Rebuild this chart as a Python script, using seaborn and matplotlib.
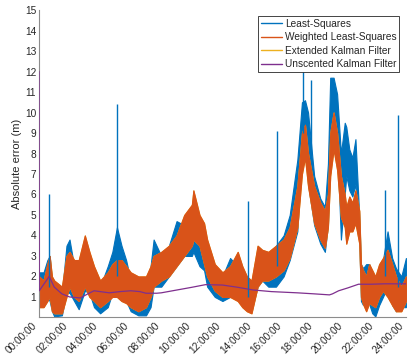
import numpy as np
import pandas as pd
import seaborn as sns
import matplotlib
matplotlib.use("Agg")
import matplotlib.pyplot as plt
from matplotlib.lines import Line2D

# ---------------- data (hours of day, absolute error in m) ----------------
env_t = [0.0, 0.3, 0.55, 0.7, 0.85, 1.0, 1.5, 1.8, 2.0, 2.3, 2.6, 3.0, 3.3, 3.6,
         4.0, 4.5, 4.8, 5.1, 5.4, 5.7, 6.0, 6.5, 7.0, 7.3, 7.5, 8.0, 8.5, 9.0,
         9.5, 10.0, 10.1, 10.5, 10.8, 11.0, 11.5, 12.0, 12.5, 13.0, 13.3, 13.6,
         13.9, 14.3, 14.6, 15.0, 15.5, 16.0, 16.4, 16.9, 17.2, 17.4, 17.6, 18.0,
         18.4, 18.7, 18.9, 19.05, 19.27, 19.5, 19.75, 20.0, 20.1, 20.3, 20.5,
         20.7, 20.95, 21.06, 21.2, 21.4, 21.6, 21.8, 22.0, 22.25, 22.5, 22.8,
         23.1, 23.35, 23.7, 24.0]

wls_lo = [0.5, 0.5, 0.8, 1.0, 0.3, 0.2, 0.2, 1.0, 1.5, 1.0, 0.8, 1.5, 1.0, 0.8,
          0.5, 0.8, 1.0, 1.0, 0.8, 0.7, 0.5, 0.3, 0.5, 1.0, 1.5, 1.8, 2.0, 2.5,
          3.0, 3.5, 3.8, 3.5, 2.6, 2.0, 1.3, 1.0, 1.0, 0.8, 0.5, 0.3,
          0.2, 1.5, 1.8, 1.8, 2.0, 2.3, 2.9, 4.4, 7.0, 7.8, 6.4, 4.6,
          3.8, 3.4, 4.4, 6.9, 8.2, 7.2, 4.9, 4.4, 3.6, 4.2, 4.2,
          4.6, 3.6, 1.0, 0.65, 0.3, 0.7, 0.6, 0.5, 1.0, 1.3, 1.0,
          0.6, 0.3, 0.3, 0.8]
wls_hi = [2.0, 1.8, 2.6, 3.0, 2.0, 1.8, 1.5, 3.0, 3.2, 2.8, 2.8, 4.0, 3.2, 2.5,
          1.8, 2.2, 2.6, 2.8, 2.8, 2.5, 2.2, 2.0, 2.0, 2.5, 3.0, 3.2, 3.5, 4.0,
          5.0, 5.5, 6.2, 5.0, 4.6, 3.8, 2.6, 2.2, 2.5, 3.2, 2.5, 2.0,
          1.8, 3.5, 3.3, 3.2, 3.5, 3.8, 4.4, 6.4, 9.0, 9.4, 8.0, 6.4,
          5.6, 5.2, 6.0, 9.0, 10.0, 9.0, 6.9, 6.0, 5.4, 5.9, 5.6,
          6.2, 5.2, 2.6, 2.3, 2.0, 2.6, 2.3, 2.0, 2.6, 2.9, 3.3,
          2.6, 2.0, 1.5, 2.0]
ekf_lo = wls_lo
ekf_hi = wls_hi

ls_lo = [0.8, 1.0, 1.0, 0.8, 0.3, 0.05, 0.1, 1.2, 1.2, 0.8, 0.4, 1.3, 1.2, 0.5,
         0.2, 0.5, 1.2, 1.5, 1.2, 0.8, 0.3, 0.1, 0.1, 0.5, 1.5, 1.5, 2.0, 2.5,
         3.0, 3.0, 3.2, 2.5, 2.3, 1.5, 1.0, 0.8, 1.0, 1.0, 0.6, 0.4,
         0.3, 1.5, 1.8, 1.5, 1.5, 2.0, 2.8, 4.2, 8.0, 8.6, 6.5, 4.5,
         3.6, 3.2, 4.5, 7.5, 8.6, 8.5, 3.8, 6.0, 6.9, 6.2, 5.9,
         6.5, 3.8, 0.8, 0.6, 1.0, 0.65, 0.2, 0.05, 0.6, 1.0, 1.5,
         0.6, 0.3, 0.5, 0.5]
ls_hi = [2.2, 2.2, 2.8, 3.0, 1.8, 1.5, 1.2, 3.5, 3.8, 2.5, 2.5, 3.6, 3.0, 2.0,
         1.5, 2.5, 3.2, 4.4, 3.5, 2.8, 1.8, 1.2, 1.5, 2.5, 3.8, 3.0, 3.5, 4.7,
         4.5, 5.0, 5.2, 4.5, 4.2, 3.5, 2.4, 2.0, 2.9, 2.5, 2.0, 1.5,
         1.4, 3.0, 3.0, 3.0, 3.5, 4.0, 5.0, 7.7, 10.5, 10.6, 10.0, 6.9,
         5.8, 5.4, 7.5, 11.7, 11.7, 10.9, 8.0, 9.5, 9.3, 8.2, 7.8,
         8.7, 4.9, 2.6, 2.4, 2.6, 2.6, 2.0, 1.6, 2.3, 2.8, 4.2,
         2.9, 2.4, 2.0, 2.9]

# isolated Least-Squares outliers
spike_t = [0.67, 5.1, 13.7, 15.55, 17.25, 17.8, 22.63, 23.46]
spike_lo = [1.5, 2.0, 1.0, 2.5, 9.0, 8.0, 2.0, 1.5]
spike_hi = [6.0, 10.4, 5.7, 9.1, 12.3, 11.6, 6.2, 9.9]

ukf_t = [0, 0.02, 0.67, 1.0, 1.5, 2.0, 2.7, 3.2, 3.6, 4.0, 4.6, 5.3, 6.0, 6.6,
         7.0, 7.7, 8.0, 10.0, 10.9, 12.0, 13.0, 14.0, 15.2, 16.9, 18.0, 19.0,
         19.2, 19.6, 20.2, 20.9, 21.7, 22.6, 24.0]
ukf_v = [12.0, 1.3, 2.0, 1.48, 1.15, 1.0, 0.95, 1.15, 1.3, 1.26, 1.2, 1.26, 1.3,
         1.26, 1.18, 1.18, 1.2, 1.47, 1.6, 1.58, 1.47, 1.34, 1.26, 1.2, 1.15,
         1.1, 1.15, 1.3, 1.44, 1.62, 1.62, 1.64, 1.64]

series_names = ["Least-Squares", "Weighted Least-Squares",
                "Extended Kalman Filter", "Unscented Kalman Filter"]
xtick_hours = [0, 2, 4, 6, 8, 10, 12, 14, 16, 18, 20, 22, 24]
xtick_labels = ["00:00:00", "02:00:00", "04:00:00", "06:00:00", "08:00:00",
                "10:00:00", "12:00:00", "14:00:00", "16:00:00", "18:00:00",
                "20:00:00", "22:00:00", "24:00:00"]
ytick_vals = list(range(1, 16))

# ---------------- style ----------------
sns.set_theme(style="white")
plt.rcParams["font.family"] = ["Liberation Sans", "DejaVu Sans"]
colors = ["#0072BD", "#D95319", "#EDB120", "#7E2F8E"]
axcol = "#262626"

fig = plt.figure(figsize=(4.1, 3.6), dpi=100)
ax = fig.add_axes([0.095, 0.12, 0.895, 0.852])


def band(t, lo, hi, color, z):
    df = pd.DataFrame({"hour": list(t) + list(t), "err": list(lo) + list(hi)})
    sns.lineplot(data=df, x="hour", y="err", estimator="mean",
                 errorbar=("pi", 100), color=color, linewidth=0, ax=ax,
                 err_kws={"alpha": 1.0, "linewidth": 0.8, "edgecolor": color},
                 zorder=z)


band(env_t, ls_lo, ls_hi, colors[0], 2)
ax.vlines(spike_t, spike_lo, spike_hi, color=colors[0], linewidth=1.0, zorder=2)
band(env_t, ekf_lo, ekf_hi, colors[2], 3)
band(env_t, wls_lo, wls_hi, colors[1], 4)
sns.lineplot(x=ukf_t, y=ukf_v, color=colors[3], linewidth=0.9, ax=ax, zorder=5)

ax.set_xlim(0, 24)
ax.set_ylim(0.03, 15)
ax.set_xticks(xtick_hours)
ax.set_xticklabels([""] * len(xtick_hours))
for h, lab in zip(xtick_hours, xtick_labels):
    ax.annotate(lab, xy=(h, 0), xycoords=("data", "axes fraction"),
                xytext=(-5, -3), textcoords="offset points", rotation=45,
                ha="right", va="top", rotation_mode="anchor",
                fontsize=7.3, color=axcol, annotation_clip=False)
ax.set_yticks(ytick_vals)
ax.set_xlabel("")
ax.set_ylabel("Absolute error (m)", fontsize=8, color=axcol, labelpad=2)
ax.tick_params(axis="both", direction="in", length=2.5, width=0.5,
               labelsize=7.3, colors=axcol, pad=2)
for s in ["top", "right"]:
    ax.spines[s].set_visible(False)
for s in ["left", "bottom"]:
    ax.spines[s].set_color("#8c8c8c")
    ax.spines[s].set_linewidth(0.8)

handles = [Line2D([0], [0], color=c, lw=1.0) for c in colors]
leg = ax.legend(handles, series_names, loc="upper right",
                bbox_to_anchor=(0.982, 0.982), fontsize=7.3, frameon=True,
                fancybox=False, edgecolor=axcol, framealpha=1.0,
                handlelength=2.0, handletextpad=0.3, labelspacing=0.35,
                borderpad=0.3, borderaxespad=0.0)
leg.get_frame().set_linewidth(0.6)
for txt in leg.get_texts():
    txt.set_color(axcol)

fig.savefig("out.png", dpi=100)
